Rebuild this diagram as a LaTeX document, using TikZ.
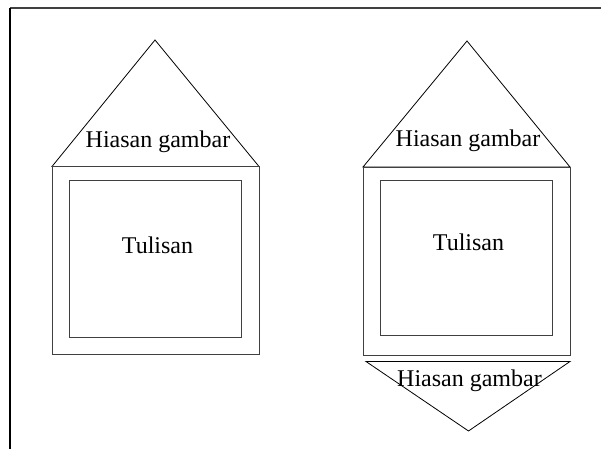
\documentclass[tikz,border=0pt]{standalone}
\usepackage{fontspec}
\setmainfont{Liberation Serif}
\newcommand\textnode[2]{node[anchor=base, inner sep=0pt, outer sep=0pt, font=\fontsize{12}{14}\selectfont] (#1) {#2}}

\begin{document}
\begin{tikzpicture}[x=.5pt, y=-.5pt]
    \useasboundingbox (0,0) rectangle (601,449);

    % Рамка
    \draw [line width=1pt, black!75] (10,8.5) -- (601,8.5);
    \draw [line width=.6pt] (10,8) -- (10,449);

    % Левая фигура
    \draw (52,166.5) -- (155,40) -- (259,166.5) -- cycle;
    \draw [black!75] (52,166.5) rectangle (259,354);
    \draw [black!75] (69,180) rectangle (241,337);

    % Правая фигура
    \draw (363,167) -- (467,41) -- (570,167) -- cycle;
    \draw [black!75] (363,167) rectangle (570,355.5);
    \draw [black!75] (380,180) rectangle (552,335.5);
    \draw (366,361.5) -- (570,361.5) -- (468.5,431) -- cycle;

    % Текстовые подписи
    \path
        (158,148) \textnode{hiasankiri}{Hiasan gambar}
        (157.5,254) \textnode{tulisankiri}{Tulisan}
        (468,146.5) \textnode{hiasanatas}{Hiasan gambar}
        (468.5,251) \textnode{tulisankanan}{Tulisan}
        (469.5,386.5) \textnode{hiasanbawah}{Hiasan gambar};
\end{tikzpicture}
\end{document}
